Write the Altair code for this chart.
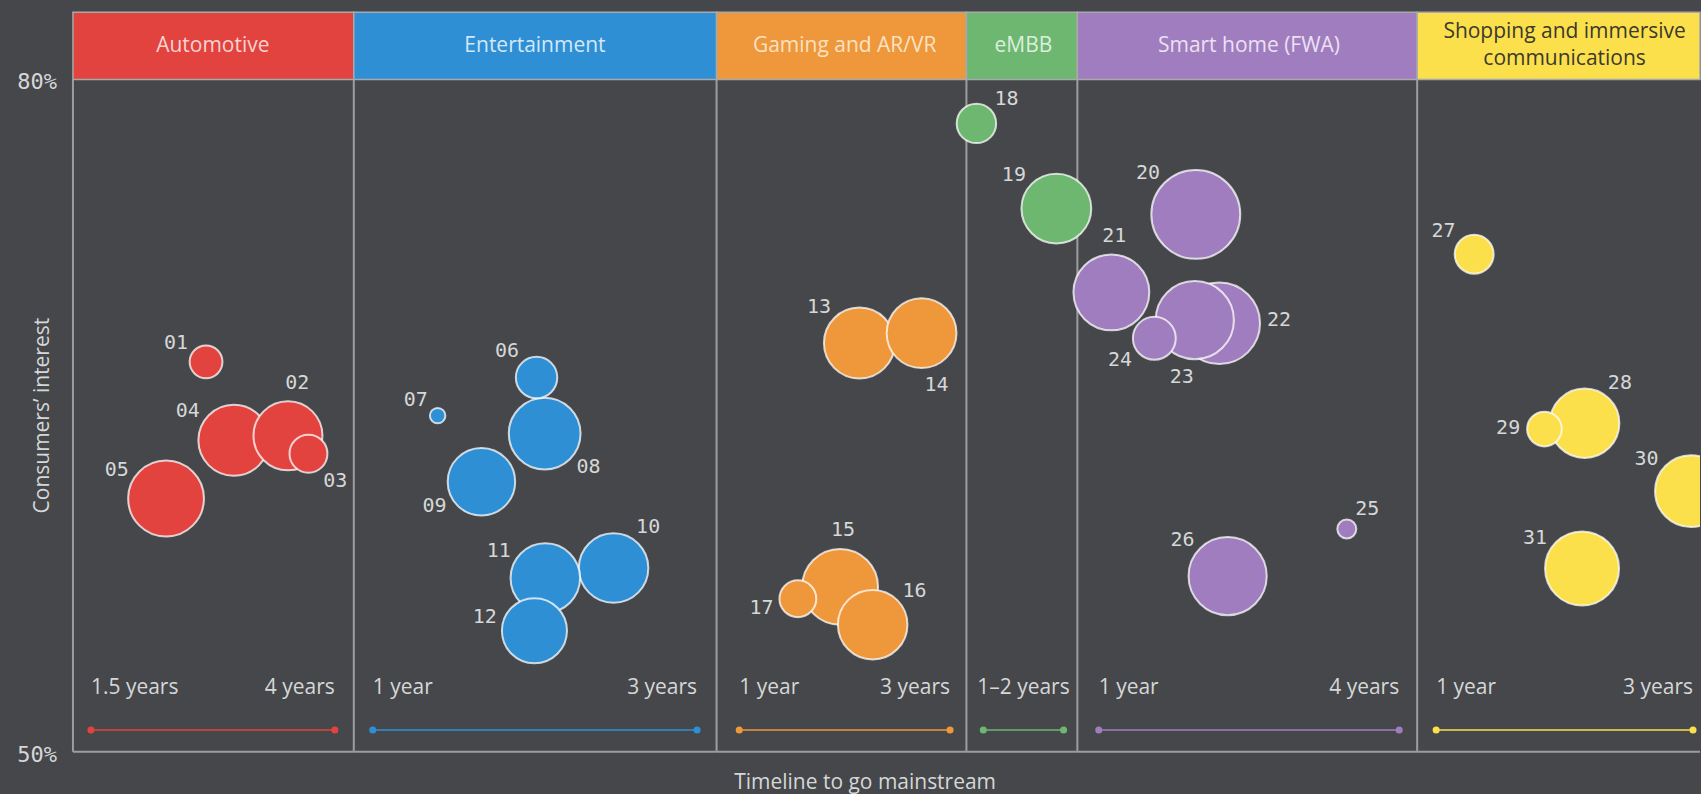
import altair as alt
import pandas as pd

# ---------------- data ----------------
panel_names = ["Automotive", "Entertainment", "Gaming and AR/VR", "eMBB",
               "Smart home (FWA)", "Shopping and immersive\ncommunications"]
timeline_start = [1.5, 1, 1, 1, 1, 1]
timeline_end = [4, 3, 3, 2, 4, 3]
start_labels = ["1.5 years", "1 year", "1 year", "", "1 year", "1 year"]
end_labels = ["4 years", "3 years", "3 years", "", "4 years", "3 years"]
mid_labels = ["", "", "", "1\u20132 years", "", ""]
y_tick_values = [50, 80]
y_title = "Consumers\u2019 interest"
x_title = "Timeline to go mainstream"

ids = ["01", "02", "03", "04", "05",
       "06", "07", "08", "09", "10", "11", "12",
       "13", "14", "15", "16", "17",
       "18", "19",
       "20", "21", "22", "23", "24", "25", "26",
       "27", "28", "29", "30", "31"]
segment = [0] * 5 + [1] * 7 + [2] * 5 + [3] * 2 + [4] * 7 + [5] * 5
years_to_mainstream = [2.68, 3.52, 3.73, 2.965, 2.27,
                       2.01, 1.40, 2.06, 1.67, 2.485, 2.064, 1.997,
                       2.14, 2.73, 1.957, 2.266, 1.556,
                       0.914, 1.91,
                       1.969, 1.126, 2.204, 1.959, 1.555, 3.477, 2.287,
                       1.296, 2.156, 1.843, 2.984, 2.136]
consumer_interest = [67.4, 64.1, 63.3, 63.9, 61.3,
                     66.7, 65.0, 64.2, 62.05, 58.2, 57.75, 55.4,
                     68.24, 68.68, 57.36, 55.67, 56.83,
                     78.04, 74.24,
                     73.98, 70.5, 69.12, 69.26, 68.45, 59.94, 57.84,
                     72.2, 64.66, 64.4, 61.63, 58.18]
bubble_value = [27, 119, 36, 126, 144,
                43, 6, 129, 114, 121, 121, 106,
                126, 122, 144, 121, 34,
                39, 122,
                198, 144, 166, 153, 46, 9, 153,
                38, 121, 30, 129, 137]
# direction of each number label around its bubble (degrees clockwise from north)
label_direction = [302, 10, 135, 302, 300,
                   312, 305, 127, 243, 40, 300, 285,
                   312, 164, 3, 51, 256,
                   51, 308,
                   311, 3, 87, 193, 238, 46, 309,
                   307, 41, 271, 306, 303]

# ---------------- styles ----------------
BG = "#45474a"
TEXT = "#d6d7d8"
LINE = "#9c9d9e"
FONT = "Open Sans"
MONO = "DejaVu Sans Mono"
FS = 21
panel_colors = ["#e2433f", "#2f8fd5", "#ef973b", "#6db771", "#a07dbe", "#fbe04c"]
header_text_colors = ["#f7d3d0", "#d3e8f7", "#fbe2c4", "#dcefdc", "#ece0f3", "#3b3a2c"]
panel_widths = [281, 363, 250, 111, 340, 283]
panel_x_ranges = [[18, 262], [19, 343.5], [22.7, 233.6], [16.9, 97.2], [21.4, 322], [19, 276]]
PLOT_H = 740
ys = alt.Scale(domain=[50, 83], nice=False, zero=False)
size_scale = alt.Scale(domain=[0, 250], range=[0, 10000], zero=True)

bubbles = pd.DataFrame({
    "id": ids, "segment": segment, "years": years_to_mainstream,
    "interest": consumer_interest, "v": bubble_value, "dir": label_direction,
})


def ydat(v):
    return alt.Y(datum=v, type="quantitative", scale=ys, axis=None)


def make_panel(i):
    w = panel_widths[i]
    color = panel_colors[i]
    xs = alt.Scale(domain=[timeline_start[i], timeline_end[i]], range=panel_x_ranges[i],
                   nice=False, zero=False)
    pdata = pd.DataFrame({
        "name": [panel_names[i]], "start": [timeline_start[i]], "end": [timeline_end[i]],
        "start_label": [start_labels[i]], "end_label": [end_labels[i]], "mid_label": [mid_labels[i]],
    })
    bdata = bubbles[bubbles["segment"] == i]
    base = alt.Chart(pdata)
    n_lines = panel_names[i].count("\n") + 1

    layers = []
    # header band
    layers.append(base.mark_rect(fill=color, stroke="#a8a9aa", strokeWidth=1.5).encode(
        x=alt.value(0), x2=alt.value("width"), y=ydat(83), y2=alt.datum(80)))
    layers.append(base.mark_text(font=FONT, fontSize=FS, color=header_text_colors[i],
                                 lineBreak="\n", lineHeight=27, baseline="middle",
                                 align="center").encode(
        x=alt.X("mid:Q", scale=xs, axis=None), y=ydat(81.5 + 0.6 * (n_lines - 1)),
        text="name:N"
    ).transform_calculate(mid="(datum.start + datum.end) / 2"))
    # frame
    if i == 0:
        layers.append(base.mark_rule(color=LINE, strokeWidth=2).encode(
            x=alt.value(0), y=ydat(50), y2=alt.datum(80)))
        # y-axis labels and title
        layers.append(alt.Chart(pd.DataFrame({"tick": y_tick_values})).mark_text(
            font=MONO, fontSize=22, color=TEXT, align="right", baseline="middle", dy=3
        ).encode(
            x=alt.value(-16), y=alt.Y("tick:Q", scale=ys, axis=None), text="label:N"
        ).transform_calculate(label="datum.tick + '%'"))
        layers.append(base.mark_text(
            font=FONT, fontSize=FS, color=TEXT, align="center", baseline="middle", angle=270
        ).encode(x=alt.value(-30), y=ydat(65), text=alt.value(y_title)))
    if i < len(panel_names) - 1:
        layers.append(base.mark_rule(color=LINE, strokeWidth=2).encode(
            x=alt.value("width"), y=ydat(50), y2=alt.datum(80)))
    layers.append(base.mark_rule(color=LINE, strokeWidth=2).encode(
        x=alt.value(0), x2=alt.value("width"), y=ydat(50)))
    # timeline
    layers.append(base.mark_rule(color=color, strokeWidth=2, opacity=0.75).encode(
        x=alt.X("start:Q", scale=xs, axis=None), x2="end:Q", y=ydat(50.97)))
    layers.append(base.mark_circle(color=color, opacity=1, size=50).encode(
        x=alt.X("yr:Q", scale=xs, axis=None), y=ydat(50.97)
    ).transform_fold(["start", "end"], as_=["k", "yr"]))
    layers.append(base.mark_text(font=FONT, fontSize=FS, color=TEXT, align="left",
                                 baseline="middle").encode(
        x=alt.X("start:Q", scale=xs, axis=None), y=ydat(52.85), text="start_label:N"))
    layers.append(base.mark_text(font=FONT, fontSize=FS, color=TEXT, align="right",
                                 baseline="middle").encode(
        x=alt.X("end:Q", scale=xs, axis=None), y=ydat(52.85), text="end_label:N"))
    layers.append(base.mark_text(font=FONT, fontSize=FS, color=TEXT, align="center",
                                 baseline="middle").encode(
        x=alt.X("mid:Q", scale=xs, axis=None), y=ydat(52.85), text="mid_label:N"
    ).transform_calculate(mid="(datum.start + datum.end) / 2"))

    # bubbles
    layers.append(alt.Chart(bdata).mark_circle(
        fill=color, stroke="#ffffff", strokeOpacity=0.75, strokeWidth=2, opacity=1,
        filled=True, clip=(i == len(panel_names) - 1)).encode(
        x=alt.X("years:Q", scale=xs, axis=None),
        y=alt.Y("interest:Q", scale=ys, axis=None),
        size=alt.Size("v:Q", scale=size_scale, legend=None),
        order=alt.Order("v:Q", sort="descending"),
    ))
    layers.append(alt.Chart(bdata).mark_text(
        font=MONO, fontSize=20, color=TEXT, align="center", baseline="middle").encode(
        x=alt.X("years:Q", scale=xs, axis=None),
        y=alt.Y("interest:Q", scale=ys, axis=None),
        theta=alt.Theta("ang:Q", scale=None),
        radius=alt.Radius("lr:Q", scale=None),
        text="id:N",
    ).transform_calculate(ang="datum.dir * PI / 180", lr="sqrt(10 * datum.v) + 19"))

    return alt.layer(*layers).properties(width=w, height=PLOT_H)


chart = alt.hconcat(*[make_panel(i) for i in range(len(panel_names))],
                    spacing=0, bounds="flush").resolve_scale(
    x="independent", y="independent"
).properties(
    title=alt.TitleParams(x_title, orient="bottom", anchor="middle",
                          font=FONT, fontSize=FS, fontWeight="normal", color=TEXT,
                          offset=6, dx=6)
).configure(
    background=BG, padding={"left": 17, "top": 11, "right": 0, "bottom": 1}
).configure_view(stroke=None)

chart.save("out.html", embed_options={"renderer": "svg", "actions": False})
